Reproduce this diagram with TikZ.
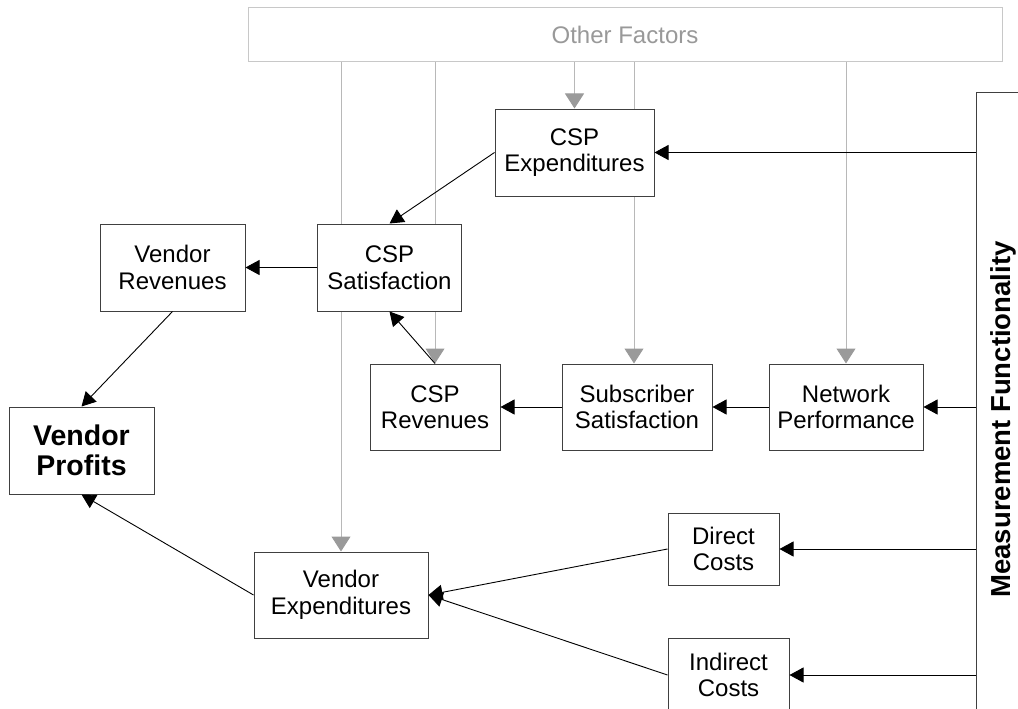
\documentclass[tikz,border=0pt]{standalone}
\usepackage{fontspec}
\setmainfont{Liberation Sans}
\usetikzlibrary{arrows.meta,backgrounds}
\definecolor{boxline}{HTML}{404040}
\definecolor{factorline}{HTML}{C8C8C8}
\definecolor{factortext}{HTML}{999999}
\definecolor{feedline}{HTML}{B8B8B8}
\definecolor{feedhead}{HTML}{9A9A9A}
\tikzset{
  blockbox/.style={draw=boxline, line width=1pt, fill=white, inner sep=0pt, align=center,
    font=\fontsize{24}{26.5}\selectfont},
  boldbox/.style={blockbox, font=\bfseries\fontsize{28.5}{30}\selectfont},
  factorbox/.style={draw=factorline, line width=1pt, fill=white, inner sep=0pt,
    text=factortext, font=\fontsize{24}{26.5}\selectfont},
  flow/.style={draw=black, line width=0.9pt, -{Triangle[length=14pt,width=15pt]}},
  feed/.style={draw=feedline, line width=1pt, -{Triangle[length=15pt,width=19pt,color=feedhead]}}
}
\begin{document}
\begin{tikzpicture}[x=1pt,y=-1pt]
\useasboundingbox (0,0) rectangle (1018,709);

% influence source along the top
\node[factorbox, minimum width=754pt, minimum height=54pt] (OF) at (625,35) {Other Factors};

% measurement bar on the right
\node[draw=boxline, line width=1pt, fill=white, minimum width=64pt, minimum height=637pt] (MF) at (1008,411.5) {};
\node[rotate=90, font=\bfseries\fontsize{27.5}{30}\selectfont] (MFtext) at (1003,419.5) {Measurement Functionality};

% blocks
\node[blockbox, minimum width=159pt, minimum height=87pt] (CE) at (574.5,152.5) {CSP\\Expenditures};
\node[blockbox, minimum width=144pt, minimum height=87pt] (CS) at (389.5,267.5) {CSP\\Satisfaction};
\node[blockbox, minimum width=145pt, minimum height=87pt] (VR) at (172.5,267.5) {Vendor\\Revenues};
\node[boldbox,  minimum width=145pt, minimum height=87pt] (VP) at (81.5,450.5) {Vendor\\Profits};
\node[blockbox, minimum width=130pt, minimum height=86pt] (CR) at (435,407) {CSP\\Revenues};
\node[blockbox, minimum width=150pt, minimum height=86pt] (SS) at (637,407) {Subscriber\\Satisfaction};
\node[blockbox, minimum width=154pt, minimum height=86pt] (NP) at (846,407) {Network\\Performance};
\node[blockbox, minimum width=111pt, minimum height=72pt] (DC) at (723.5,549) {Direct\\Costs};
\node[blockbox, minimum width=121pt, minimum height=74pt] (IC) at (728.5,675) {Indirect\\Costs};
\node[blockbox, minimum width=174pt, minimum height=86pt] (VE) at (341,595) {Vendor\\Expenditures};

% grey feeds from other factors, behind the blocks
\begin{pgfonlayer}{background}
\draw[feed] (OF.south -| VE.north) -- (VE.north);
\draw[feed] (OF.south -| CR.north) -- (CR.north);
\draw[feed] (OF.south -| CE.north) -- (CE.north);
\draw[feed] ([xshift=-3pt]OF.south -| SS.north) -- ([xshift=-3pt]SS.north);
\draw[feed] (OF.south -| NP.north) -- (NP.north);
\end{pgfonlayer}

% main causal flows
\draw[flow] (CE.east -| MF.west) -- (CE.east);
\draw[flow] (NP.east -| MF.west) -- (NP.east);
\draw[flow] (NP.west) -- (SS.east);
\draw[flow] (SS.west) -- (CR.east);
\draw[flow] (CR.north) -- (CS.south);
\draw[flow] (CE.west) -- (CS.north);
\draw[flow] (CS.west) -- (VR.east);
\draw[flow] (VR.south) -- (VP.north);
\draw[flow] (VE.west) -- (VP.south);
\draw[flow] (DC.west) -- (VE.east);
\draw[flow] (IC.west) -- (VE.east);
\draw[flow] (DC.east -| MF.west) -- (DC.east);
\draw[flow] (IC.east -| MF.west) -- (IC.east);
\end{tikzpicture}
\end{document}
